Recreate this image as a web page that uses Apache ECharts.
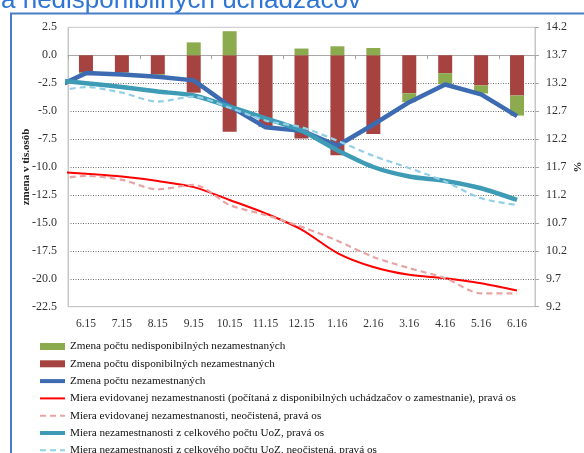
<!DOCTYPE html>
<html>
<head>
<meta charset="utf-8">
<script src="https://cdn.jsdelivr.net/npm/echarts@6/dist/echarts.min.js"></script>
<style>
  html, body { margin: 0; padding: 0; background: #fff; }
  #chart { width: 584px; height: 453px; }
</style>
</head>
<body>
<div id="chart"></div>
<script>
// mesiace
var months = ["6.15", "7.15", "8.15", "9.15", "10.15", "11.15", "12.15", "1.16", "2.16", "3.16", "4.16", "5.16", "6.16"];

// stlpce, tis. osob (lava os)
var dispBars = [-1.5, -1.55, -1.7, -3.35, -6.85, -6.4, -7.45, -8.95, -7.05, -3.4, -1.6, -2.7, -3.6];
var nedispBars = [-0.15, -0.15, -0.2, 1.15, 2.15, 0, 0.6, 0.8, 0.65, -0.8, -1.0, -0.72, -1.8];

// ciary - prva hodnota je 5.15 (vidno iba kusok pri lavom okraji)
var lineMonths = ["5.15"].concat(months);
var zmenaNezam = [-3.1, -1.6, -1.72, -1.92, -2.25, -4.55, -6.45, -6.75, -8.1, -6.2, -4.2, -2.62, -3.5, -5.45];
var mieraDisp = [11.62, 11.58, 11.53, 11.45, 11.34, 11.11, 10.87, 10.58, 10.16, 9.91, 9.77, 9.71, 9.62, 9.49];
var mieraDispNeoc = [11.46, 11.54, 11.47, 11.3, 11.38, 11.02, 10.84, 10.63, 10.38, 10.09, 9.89, 9.71, 9.44, 9.44];
var mieraUoz = [13.26, 13.2, 13.13, 13.05, 12.98, 12.78, 12.57, 12.35, 12.0, 11.7, 11.53, 11.45, 11.32, 11.11];
var mieraUozNeoc = [13.03, 13.13, 13.03, 12.87, 12.96, 12.76, 12.53, 12.41, 12.17, 11.9, 11.68, 11.44, 11.14, 11.02];

var leftTicks = { min: -22.5, max: 2.5, step: 2.5 };
var rightTicks = { min: 9.2, max: 14.2, step: 0.5 };

var names = {
  nedisp: "Zmena počtu nedisponibilných nezamestnaných",
  disp: "Zmena počtu disponibilných nezamestnaných",
  zmena: "Zmena počtu nezamestnaných",
  mieraDisp: "Miera evidovanej nezamestnanosti (počítaná z disponibilných uchádzačov o zamestnanie), pravá os",
  mieraDispNeoc: "Miera evidovanej nezamestnanosti, neočistená, pravá os",
  mieraUoz: "Miera nezamestnanosti z celkového počtu UoZ, pravá os",
  mieraUozNeoc: "Miera nezamestnanosti z celkového počtu UoZ, neočistená, pravá os"
};

function toPairs(arr) {
  // index -1 = 5.15, 0 = 6.15 ...
  return arr.map(function (v, i) { return [i - 1, v]; });
}

// v legende len ciara, bez kruzku
function lineLegend(name, width) {
  var item = { name: name, itemStyle: { opacity: 0 } };
  if (width) item.lineStyle = { width: width };
  return item;
}

var serifFont = "Liberation Serif";
var axisGray = "#c6c6c6";

var myChart = echarts.init(document.getElementById("chart"));

var option = {
  animation: false,
  graphic: [
    {
      type: "rect",
      shape: { x: 11, y: 13.5, width: 620, height: 500 },
      style: { fill: "none", stroke: "#4a7cc6", lineWidth: 2 },
      z: 0
    },
    {
      type: "text",
      left: 1,
      top: -12,
      style: {
        text: "a nedisponibilných uchádzačov",
        fill: "#2f75d6",
        font: "26px 'Liberation Sans'"
      },
      z: 10
    }
  ],
  grid: {
    left: 68,
    right: 49,
    top: 27.3,
    bottom: 146.3,
    outerBoundsMode: "none",
    show: true,
    borderColor: axisGray,
    borderWidth: 1
  },
  legend: {
    orient: "vertical",
    left: 33,
    top: 336,
    height: 200,
    itemWidth: 25,
    itemHeight: 7,
    itemGap: 6.3,
    textStyle: { fontFamily: serifFont, fontSize: 11.2, color: "#111" },
    data: [
      { name: names.nedisp, icon: "rect" },
      { name: names.disp, icon: "rect" },
      lineLegend(names.zmena, 4),
      lineLegend(names.mieraDisp),
      lineLegend(names.mieraDispNeoc),
      lineLegend(names.mieraUoz, 4),
      lineLegend(names.mieraUozNeoc)
    ]
  },
  xAxis: [
    {
      // popisky dole
      type: "category",
      data: months,
      position: "bottom",
      axisLine: { show: true, onZero: false, lineStyle: { color: axisGray } },
      axisTick: { show: false },
      axisLabel: { fontFamily: serifFont, fontSize: 11.5, color: "#333", margin: 11, interval: 0 }
    },
    {
      // nulova ciara s ciarkami
      type: "category",
      data: months,
      position: "bottom",
      axisLine: { show: true, onZero: true, onZeroAxisIndex: 0, lineStyle: { color: "#a8a8a8" } },
      axisTick: { show: true, length: 4, lineStyle: { color: "#a8a8a8" } },
      axisLabel: { show: false }
    },
    {
      // pomocna os pre ciary
      type: "value",
      min: -0.5,
      max: 12.5,
      show: false,
      axisLine: { onZero: false }
    }
  ],
  yAxis: [
    {
      type: "value",
      min: leftTicks.min,
      max: leftTicks.max,
      interval: leftTicks.step,
      name: "zmena v tis.osôb",
      nameLocation: "middle",
      nameGap: 36,
      nameRotate: 90,
      nameMoveOverlap: false,
      nameTextStyle: { fontFamily: serifFont, fontSize: 11, fontWeight: "bold", color: "#222" },
      axisLine: { show: true, onZero: false, lineStyle: { color: axisGray } },
      axisTick: { show: false },
      axisLabel: {
        fontFamily: serifFont, fontSize: 12, color: "#333", margin: 11,
        formatter: function (v) { return v.toFixed(1); }
      },
      splitLine: {
        show: true,
        showMinLine: false,
        showMaxLine: false,
        lineStyle: { color: "#6f6f6f", type: [1, 1.5], width: 1 }
      }
    },
    {
      type: "value",
      position: "right",
      min: rightTicks.min,
      max: rightTicks.max,
      interval: rightTicks.step,
      name: "%",
      nameLocation: "middle",
      nameGap: 38,
      nameRotate: 90,
      nameMoveOverlap: false,
      nameTextStyle: { fontFamily: serifFont, fontSize: 11, fontWeight: "bold", color: "#222" },
      axisLine: { show: true, onZero: false, lineStyle: { color: axisGray } },
      axisTick: { show: true, length: 4, lineStyle: { color: "#a8a8a8" } },
      axisLabel: {
        fontFamily: serifFont, fontSize: 12, color: "#333", margin: 11,
        formatter: function (v) { return v.toFixed(1); }
      },
      splitLine: { show: false }
    }
  ],
  series: [
    {
      name: names.disp,
      type: "bar",
      stack: "zmena",
      xAxisIndex: 0,
      yAxisIndex: 0,
      barWidth: 14,
      itemStyle: { color: "#a6423f" },
      data: dispBars
    },
    {
      name: names.nedisp,
      type: "bar",
      stack: "zmena",
      xAxisIndex: 0,
      yAxisIndex: 0,
      barWidth: 14,
      itemStyle: { color: "#8cab4e" },
      data: nedispBars
    },
    {
      name: names.zmena,
      type: "line",
      xAxisIndex: 2,
      yAxisIndex: 0,
      symbol: "none",
      lineStyle: { color: "#3d6bb2", width: 4.5 },
      itemStyle: { color: "#3d6bb2" },
      data: toPairs(zmenaNezam)
    },
    {
      name: names.mieraDisp,
      type: "line",
      xAxisIndex: 2,
      yAxisIndex: 1,
      symbol: "none",
      smooth: 0.3,
      lineStyle: { color: "#ff0000", width: 2 },
      itemStyle: { color: "#ff0000" },
      data: toPairs(mieraDisp)
    },
    {
      name: names.mieraDispNeoc,
      type: "line",
      xAxisIndex: 2,
      yAxisIndex: 1,
      symbol: "none",
      smooth: 0.3,
      lineStyle: { color: "#e8a3a3", width: 2.2, type: [6, 4] },
      itemStyle: { color: "#e8a3a3" },
      data: toPairs(mieraDispNeoc)
    },
    {
      name: names.mieraUoz,
      type: "line",
      xAxisIndex: 2,
      yAxisIndex: 1,
      symbol: "none",
      smooth: 0.25,
      lineStyle: { color: "#3e9bb6", width: 4.5 },
      itemStyle: { color: "#3e9bb6" },
      data: toPairs(mieraUoz)
    },
    {
      name: names.mieraUozNeoc,
      type: "line",
      xAxisIndex: 2,
      yAxisIndex: 1,
      symbol: "none",
      smooth: 0.3,
      lineStyle: { color: "#92d0e6", width: 2.2, type: [6, 4] },
      itemStyle: { color: "#92d0e6" },
      data: toPairs(mieraUozNeoc)
    }
  ]
};

myChart.setOption(option);
</script>
</body>
</html>
